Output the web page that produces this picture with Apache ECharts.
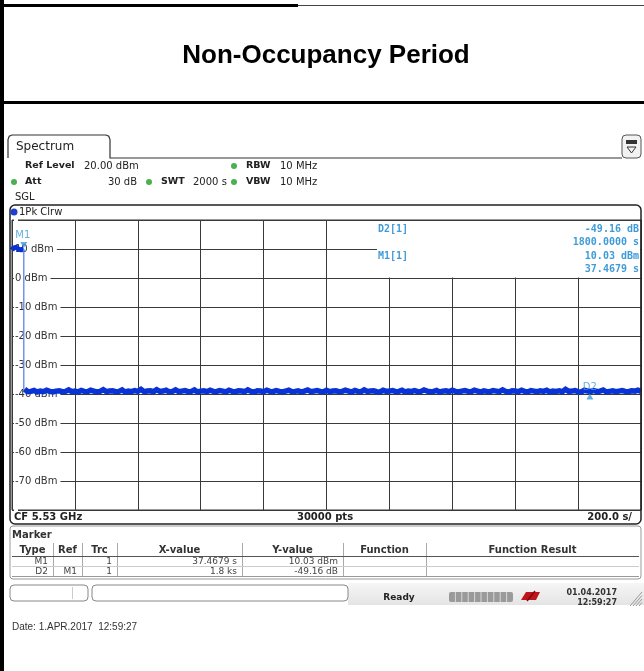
<!DOCTYPE html>
<html>
<head>
<meta charset="utf-8">
<script src="https://cdn.jsdelivr.net/npm/echarts@6/dist/echarts.min.js"></script>
<style>
html, body { margin: 0; padding: 0; background: #fff; }
#spectrum { width: 644px; height: 671px; }
</style>
</head>
<body>
<div id="spectrum"></div>
<script>
// sweep axis (s) and level axis (dBm)
const sweepMin = 0, sweepMax = 2000, sweepDiv = 200
const levelMin = -80, levelMax = 20, levelDiv = 10

// trace while the signal is still on (before M1)
const onTimes = [0, 5, 10, 15, 20, 25, 30, 37.4679]
const onLevels = [9.6, 10.4, 9.8, 10.6, 9.9, 10.2, 9.7, 10.03]
// the drop after M1
const dropTimes = [37.4679, 37.4679]
const dropLevels = [10.03, -38.6]
// noise floor, one reading every 10 s from 40 s
const noiseStart = 40, noiseStep = 10
const noiseLevels = [
    -38.3, -39.2, -39.1, -38.8, -39.3, -39.0, -39.2, -38.7, -39.1, -39.3,
    -39.0, -38.9, -39.2, -39.1, -38.6, -39.2, -39.0, -39.3, -38.8, -39.1,
    -39.2, -38.7, -39.0, -39.3, -39.1, -38.5, -39.2, -39.0, -38.9, -39.2,
    -39.1, -38.6, -39.3, -39.0, -39.2, -38.8, -39.1, -38.4, -39.2, -39.0,
    -38.9, -39.2, -38.5, -39.1, -39.0, -38.7, -39.3, -39.1, -38.6, -39.2,
    -39.0, -38.8, -39.2, -39.1, -38.6, -39.3, -39.0, -38.9, -39.2, -38.7,
    -39.1, -39.2, -38.8, -39.0, -39.3, -38.7, -39.1, -39.2, -38.9, -39.0,
    -39.2, -38.6, -39.1, -39.3, -38.9, -39.0, -39.2, -38.7, -39.1, -39.2,
    -38.8, -39.1, -39.3, -39.0, -38.7, -39.2, -39.1, -38.9, -39.3, -39.0,
    -38.6, -39.2, -39.0, -38.8, -39.1, -39.3, -38.7, -39.2, -39.0, -38.9,
    -39.2, -39.1, -38.7, -39.0, -39.3, -38.8, -39.1, -39.2, -38.6, -39.1,
    -39.0, -38.9, -39.2, -39.3, -38.7, -39.1, -39.0, -38.8, -39.2, -39.1,
    -38.7, -39.3, -39.0, -39.1, -38.8, -39.2, -39.1, -38.6, -39.0, -39.2,
    -39.1, -38.8, -39.3, -39.0, -38.9, -39.2, -38.7, -39.1, -39.3, -39.0,
    -38.8, -39.1, -39.2, -38.7, -39.0, -39.3, -38.9, -39.1, -39.2, -38.8,
    -39.0, -39.2, -38.6, -39.1, -39.3, -38.9, -39.0, -39.2, -38.7, -39.1,
    -39.3, -38.8, -39.0, -39.2, -38.9, -39.1, -38.7, -39.3, -39.0, -39.1,
    -38.9, -39.2, -38.4, -39.1, -39.0, -38.8, -39.2, -39.3, -38.7, -39.0,
    -39.1, -38.8, -39.2, -39.0, -38.6, -39.3, -39.1, -38.9, -39.2, -39.0,
    -38.8, -39.1, -39.2, -38.9, -39.0, -38.7, -39.1
]

// markers
const markerNames = ['M1', 'D2']
const markerTimes = [37.4679, 1837.4679]
const markerLevels = [10.03, -39.13]
const markerInfo = [['D2[1]', '-49.16 dB', '1800.0000 s'], ['M1[1]', '10.03 dBm', '37.4679 s']]

// marker table
const tableHead = ['Type', 'Ref', 'Trc', 'X-value', 'Y-value', 'Function', 'Function Result']
const tableRows = [
    ['M1', '', '1', '37.4679 s', '10.03 dBm', '', ''],
    ['D2', 'M1', '1', '1.8 ks', '-49.16 dB', '', '']
]

const FONT = 'DejaVu Sans'
const MONO = 'DejaVu Sans Mono'
const ink = '#222'
const markerBlue = '#3f9bd8'

function txt(x, y, text, font, opts) {
    opts = opts || {}
    return {
        type: 'text', x: x, y: y, z: opts.z || 20,
        style: {
            text: text, font: font, fill: opts.fill || ink,
            align: opts.align || 'left', verticalAlign: 'middle'
        }
    }
}
function ln(x1, y1, x2, y2, color, w, z) {
    return { type: 'line', z: z || 10, shape: { x1: x1, y1: y1, x2: x2, y2: y2 }, style: { stroke: color, lineWidth: w || 1 } }
}
function dot(cx, cy, color) {
    return { type: 'circle', z: 20, shape: { cx: cx, cy: cy, r: 3 }, style: { fill: color } }
}

const g = []
// page frame and title
g.push({ type: 'rect', z: 10, shape: { x: 0, y: 0, width: 4, height: 671 }, style: { fill: '#000' } })
g.push({ type: 'rect', z: 10, shape: { x: 0, y: 4, width: 298, height: 3 }, style: { fill: '#000' } })
g.push(ln(298, 5.5, 644, 5.5, '#444', 1))
g.push(txt(326, 56, 'Non-Occupancy Period', 'bold 26px "Liberation Sans"', { align: 'center', fill: '#000' }))
g.push({ type: 'rect', z: 10, shape: { x: 0, y: 101, width: 644, height: 3 }, style: { fill: '#000' } })

// spectrum tab + setting lines
g.push({ type: 'polyline', z: 10,
    shape: { points: [[8, 158], [8, 139.5], [9.2, 136.3], [12, 135], [106, 135], [108.8, 136.3], [110, 139.5], [110, 158], [622, 158]] },
    style: { stroke: '#333', lineWidth: 1.2, fill: null } })
g.push(txt(16, 147, 'Spectrum', '12px ' + FONT))
g.push({ type: 'rect', z: 10, shape: { x: 622, y: 135, width: 19, height: 23, r: 4 }, style: { stroke: '#555', fill: '#f2f2f2', lineWidth: 1 } })
g.push({ type: 'rect', z: 11, shape: { x: 626, y: 140, width: 11, height: 4 }, style: { fill: '#333' } })
g.push({ type: 'polygon', z: 11, shape: { points: [[627, 147], [636, 147], [631.5, 153]] }, style: { stroke: '#333', fill: null, lineWidth: 1 } })

g.push(txt(25, 166, 'Ref Level', 'bold 9.5px ' + FONT))
g.push(txt(84, 166, '20.00 dBm', '10px ' + FONT))
g.push(dot(234, 166, '#4caf50'))
g.push(txt(246, 166, 'RBW', 'bold 9.5px ' + FONT))
g.push(txt(280, 166, '10 MHz', '10px ' + FONT))
g.push(dot(14, 182, '#4caf50'))
g.push(txt(25, 182, 'Att', 'bold 9.5px ' + FONT))
g.push(txt(137, 182, '30 dB', '10px ' + FONT, { align: 'right' }))
g.push(dot(149, 182, '#4caf50'))
g.push(txt(161, 182, 'SWT', 'bold 9.5px ' + FONT))
g.push(txt(193, 182, '2000 s', '10px ' + FONT))
g.push(dot(234, 182, '#4caf50'))
g.push(txt(246, 182, 'VBW', 'bold 9.5px ' + FONT))
g.push(txt(280, 182, '10 MHz', '10px ' + FONT))
g.push(txt(15, 197, 'SGL', '10px ' + FONT))

// diagram frame
g.push({ type: 'rect', z: 10, shape: { x: 10, y: 205, width: 631, height: 319, r: 5 }, style: { stroke: '#222', fill: null, lineWidth: 1.5 } })
g.push({ type: 'circle', z: 20, shape: { cx: 14, cy: 212, r: 3.5 }, style: { fill: '#1f3fcf' } })
g.push(txt(19, 212, '1Pk Clrw', '10px ' + FONT))

// marker readout in the top right of the diagram
g.push({ type: 'rect', z: 5, shape: { x: 377, y: 221, width: 263, height: 56.5 }, style: { fill: '#fff' } })
markerInfo.forEach(function (m, i) {
    const y = 229 + i * 27
    g.push(txt(378, y, m[0], 'bold 10px ' + MONO, { fill: markerBlue }))
    g.push(txt(639, y, m[1], 'bold 10px ' + MONO, { fill: markerBlue, align: 'right' }))
    g.push(txt(639, y + 13.5, m[2], 'bold 10px ' + MONO, { fill: markerBlue, align: 'right' }))
})

// footer of the diagram
g.push(txt(14, 517, 'CF 5.53 GHz', 'bold 10px ' + FONT))
g.push(txt(325, 517, '30000 pts', 'bold 10px ' + FONT, { align: 'center' }))
g.push(txt(632, 517, '200.0 s/', 'bold 10px ' + FONT, { align: 'right' }))

// marker table
g.push({ type: 'rect', z: 10, shape: { x: 10, y: 526, width: 631, height: 53, r: 3 }, style: { stroke: '#999', fill: null, lineWidth: 1 } })
g.push(txt(12, 535, 'Marker', 'bold 10px ' + FONT, { fill: '#333' }))
const colEdges = [12, 53, 82, 117, 242, 343, 426, 639]
for (let c = 1; c < colEdges.length - 1; c++) g.push(ln(colEdges[c] + 0.5, 543, colEdges[c] + 0.5, 576, '#aaa', 1))
g.push(ln(12, 556.5, 639, 556.5, '#555', 1))
g.push(ln(12, 566.5, 639, 566.5, '#ccc', 1))
g.push(ln(12, 576.5, 639, 576.5, '#999', 1))
tableHead.forEach(function (h, c) {
    g.push(txt((colEdges[c] + colEdges[c + 1]) / 2, 550, h, 'bold 10px ' + FONT, { align: 'center', fill: '#333' }))
})
tableRows.forEach(function (row, r) {
    row.forEach(function (v, c) {
        if (v) g.push(txt(colEdges[c + 1] - 5, 561.5 + r * 10, v, '9px ' + FONT, { align: 'right', fill: '#444' }))
    })
})

// status bar
g.push({ type: 'rect', z: 8, shape: { x: 348, y: 583, width: 296, height: 22 },
    style: { fill: { type: 'linear', x: 0, y: 0, x2: 0, y2: 1, colorStops: [{ offset: 0, color: '#f6f6f6' }, { offset: 1, color: '#e4e4e4' }] } } })
g.push({ type: 'rect', z: 10, shape: { x: 10, y: 585, width: 78, height: 16, r: 4 }, style: { stroke: '#888', fill: '#fff', lineWidth: 1 } })
g.push(ln(72.5, 587, 72.5, 599, '#ccc', 1))
g.push({ type: 'rect', z: 10, shape: { x: 92, y: 585, width: 256, height: 16, r: 4 }, style: { stroke: '#888', fill: '#fff', lineWidth: 1 } })
g.push(txt(399, 598, 'Ready', 'bold 9px ' + FONT, { align: 'center' }))
g.push({ type: 'rect', z: 10, shape: { x: 449, y: 592, width: 64, height: 10, r: 2 }, style: { fill: '#9a9a9a' } })
for (let s = 1; s < 10; s++) g.push(ln(449 + s * 6.4, 592, 449 + s * 6.4, 602, '#d8d8d8', 1, 11))
g.push({ type: 'polygon', z: 10, shape: { points: [[521, 600], [526, 592], [540, 592], [536, 600]] }, style: { fill: '#c0141c' } })
g.push(ln(527, 601, 535, 591, '#7a0a10', 1.5, 11))
g.push(txt(617, 593, '01.04.2017', 'bold 8px ' + FONT, { align: 'right', fill: '#333' }))
g.push(txt(617, 603, '12:59:27', 'bold 8px ' + FONT, { align: 'right', fill: '#333' }))
for (let h = 0; h < 4; h++) g.push(ln(630 + h * 3, 606, 642, 592 + h * 3.5, '#999', 1, 11))

g.push(txt(12, 627, 'Date: 1.APR.2017  12:59:27', '10px "Liberation Sans"', { fill: '#333' }))

const chart = echarts.init(document.getElementById('spectrum'), null, { renderer: 'canvas' })
chart.setOption({
    animation: false,
    backgroundColor: '#fff',
    grid: { left: 12, top: 220, width: 629, height: 290, show: true, borderColor: '#333', borderWidth: 1 },
    xAxis: {
        type: 'value', min: sweepMin, max: sweepMax, interval: sweepDiv,
        axisLine: { show: false }, axisTick: { show: false }, axisLabel: { show: false },
        splitLine: { show: true, lineStyle: { color: '#3a3a3a', width: 1 } }
    },
    yAxis: {
        type: 'value', min: levelMin, max: levelMax, interval: levelDiv,
        axisLine: { show: false }, axisTick: { show: false },
        axisLabel: {
            inside: true, margin: 2, color: '#333', fontFamily: FONT, fontSize: 10,
            backgroundColor: '#fff', padding: [1, 3, 1, 1],
            formatter: function (v) { return (v === levelMax || v === levelMin) ? '' : v + ' dBm' }
        },
        splitLine: { show: true, lineStyle: { color: '#3a3a3a', width: 1 } }
    },
    series: [
        {
            type: 'line', z: 3, symbol: 'none', silent: true,
            lineStyle: { color: '#0a33d6', width: 5 },
            data: onTimes.map(function (t, i) { return [t, onLevels[i]] })
        },
        {
            type: 'line', z: 3, symbol: 'none', silent: true,
            lineStyle: { color: '#5a86ea', width: 1.3 },
            data: dropTimes.map(function (t, i) { return [t, dropLevels[i]] })
        },
        {
            type: 'line', z: 3, symbol: 'none', silent: true, sampling: null,
            lineStyle: { color: '#0a33d6', width: 5.5, join: 'miter' },
            data: noiseLevels.map(function (v, i) { return [noiseStart + i * noiseStep, v] })
        },
        {
            type: 'scatter', z: 4, symbol: 'triangle', symbolSize: [7, 6],
            itemStyle: { color: markerBlue },
            data: markerNames.map(function (n, i) {
                const up = n === 'D2'
                return {
                    value: [markerTimes[i], markerLevels[i]],
                    symbolRotate: up ? 0 : 180,
                    symbolOffset: up ? [0, 5] : [0, -4],
                    label: {
                        show: true, formatter: n, position: 'top', distance: up ? 1 : 2,
                        offset: up ? [0, 0] : [-1, 0],
                        color: markerBlue, fontFamily: FONT, fontSize: 10
                    }
                }
            })
        }
    ],
    graphic: { elements: g }
})
</script>
</body>
</html>
